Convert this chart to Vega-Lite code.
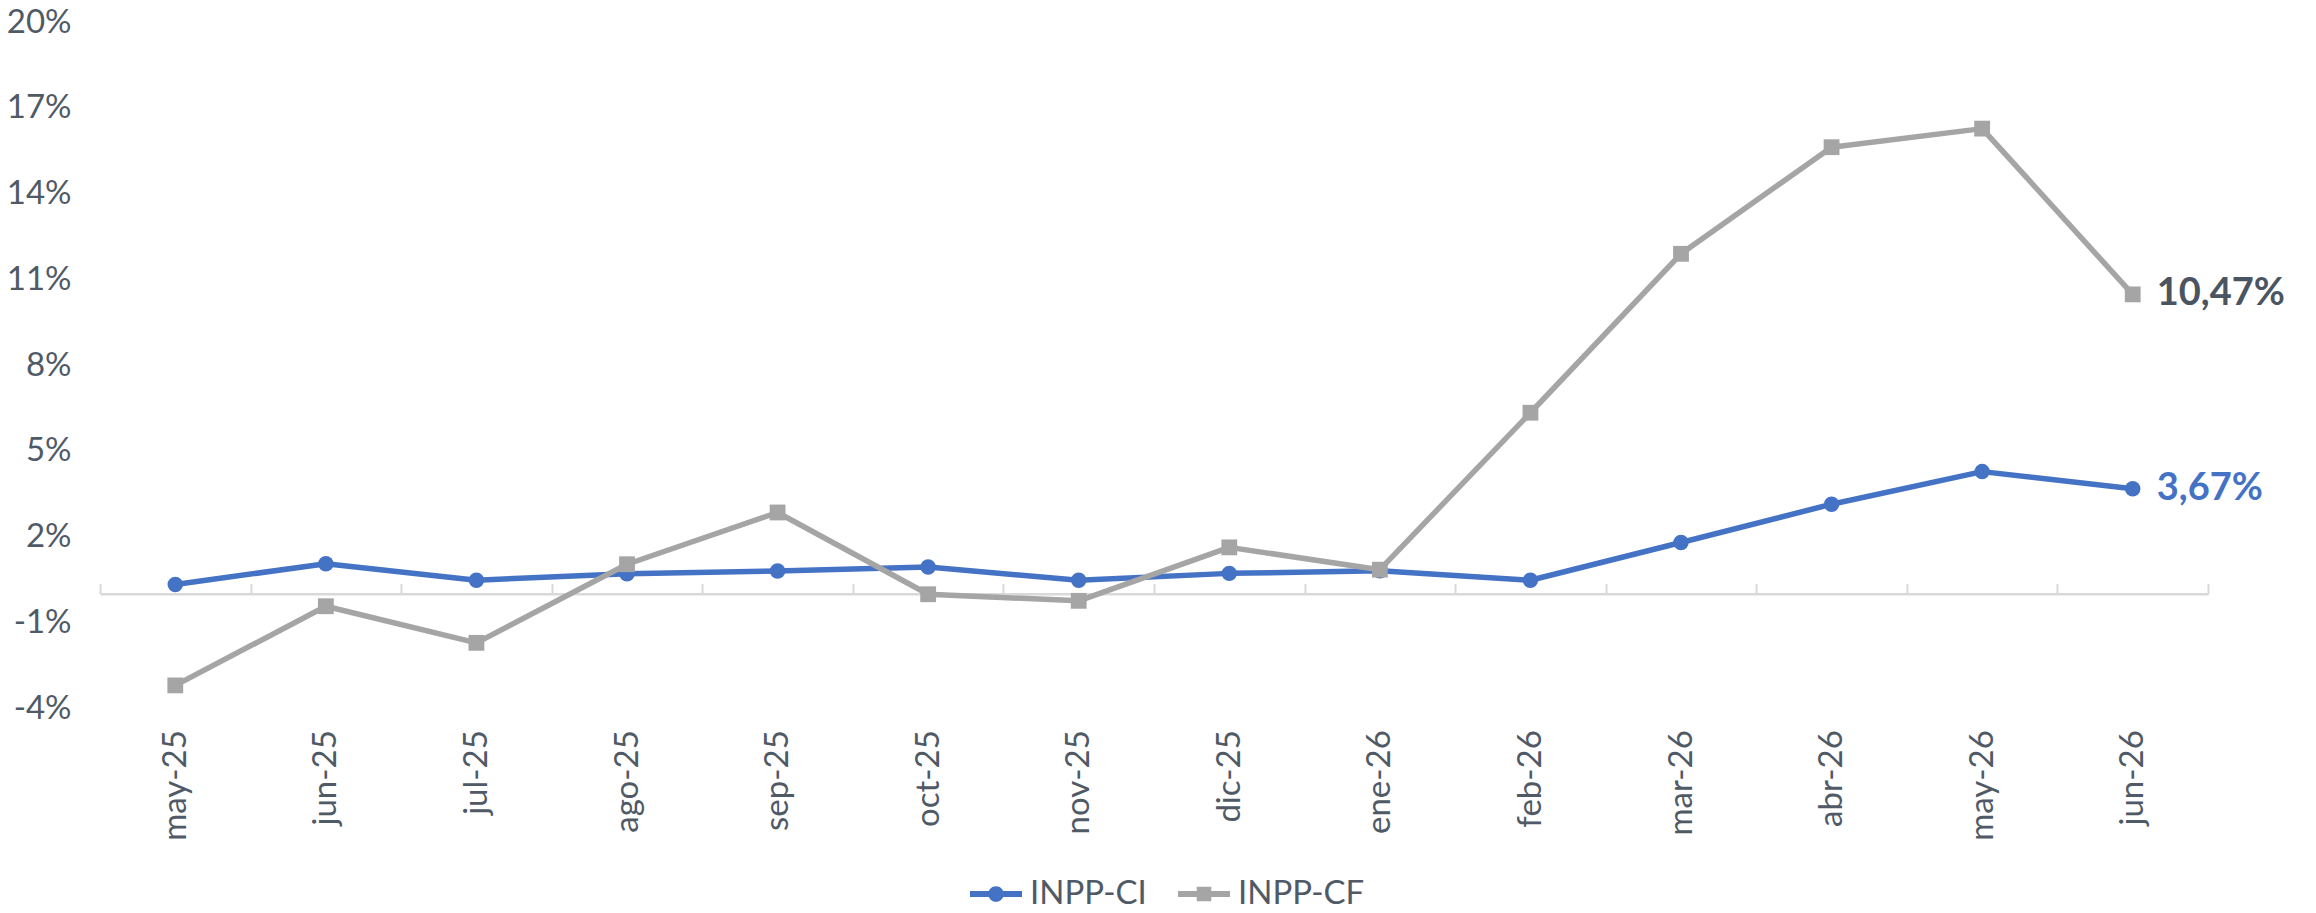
{
  "$schema": "https://vega.github.io/schema/vega-lite/v6.json",
  "width": 2108,
  "height": 686,
  "autosize": {"type": "none"},
  "padding": {"left": 100, "top": 22, "right": 108, "bottom": 205},
  "background": "white",
  "config": {
    "view": {"stroke": null},
    "font": "Lato",
    "axis": {"grid": false, "title": null}
  },
  "data": {
    "values": [
      {"mes": "may-25", "serie": "INPP-CI", "valor": 0.32},
      {"mes": "jun-25", "serie": "INPP-CI", "valor": 1.05},
      {"mes": "jul-25", "serie": "INPP-CI", "valor": 0.47},
      {"mes": "ago-25", "serie": "INPP-CI", "valor": 0.70},
      {"mes": "sep-25", "serie": "INPP-CI", "valor": 0.79},
      {"mes": "oct-25", "serie": "INPP-CI", "valor": 0.93},
      {"mes": "nov-25", "serie": "INPP-CI", "valor": 0.47},
      {"mes": "dic-25", "serie": "INPP-CI", "valor": 0.71},
      {"mes": "ene-26", "serie": "INPP-CI", "valor": 0.80},
      {"mes": "feb-26", "serie": "INPP-CI", "valor": 0.47},
      {"mes": "mar-26", "serie": "INPP-CI", "valor": 1.79},
      {"mes": "abr-26", "serie": "INPP-CI", "valor": 3.13},
      {"mes": "may-26", "serie": "INPP-CI", "valor": 4.27},
      {"mes": "jun-26", "serie": "INPP-CI", "valor": 3.67},
      {"mes": "may-25", "serie": "INPP-CF", "valor": -3.21},
      {"mes": "jun-25", "serie": "INPP-CF", "valor": -0.44},
      {"mes": "jul-25", "serie": "INPP-CF", "valor": -1.72},
      {"mes": "ago-25", "serie": "INPP-CF", "valor": 1.03},
      {"mes": "sep-25", "serie": "INPP-CF", "valor": 2.84},
      {"mes": "oct-25", "serie": "INPP-CF", "valor": -0.02},
      {"mes": "nov-25", "serie": "INPP-CF", "valor": -0.25},
      {"mes": "dic-25", "serie": "INPP-CF", "valor": 1.62},
      {"mes": "ene-26", "serie": "INPP-CF", "valor": 0.84},
      {"mes": "feb-26", "serie": "INPP-CF", "valor": 6.33},
      {"mes": "mar-26", "serie": "INPP-CF", "valor": 11.89},
      {"mes": "abr-26", "serie": "INPP-CF", "valor": 15.62},
      {"mes": "may-26", "serie": "INPP-CF", "valor": 16.27},
      {"mes": "jun-26", "serie": "INPP-CF", "valor": 10.47}
    ]
  },
  "encoding": {
    "x": {
      "field": "mes",
      "type": "ordinal",
      "sort": null,
      "scale": {"type": "band", "paddingInner": 0, "paddingOuter": 0},
      "axis": {
        "offset": -114.33,
        "domainColor": "#d9d9d9",
        "domainWidth": 2.5,
        "ticks": true,
        "tickBand": "extent",
        "tickSize": -10,
        "tickColor": "#d9d9d9",
        "tickWidth": 2,
        "labelAngle": -90,
        "labelPadding": 146,
        "labelFontSize": 33,
        "labelColor": "#505a66",
        "labelFont": "Lato"
      }
    },
    "y": {
      "field": "valor",
      "type": "quantitative",
      "scale": {"domain": [-4, 20], "nice": false, "zero": false},
      "axis": {
        "values": [-4, -1, 2, 5, 8, 11, 14, 17, 20],
        "labelExpr": "datum.value + '%'",
        "domain": false,
        "ticks": false,
        "tickSize": 0,
        "labelPadding": 29,
        "labelFontSize": 33,
        "labelColor": "#505a66",
        "labelFont": "Lato"
      }
    },
    "color": {
      "field": "serie",
      "type": "nominal",
      "scale": {"domain": ["INPP-CI", "INPP-CF"], "range": ["#4472C4", "#A5A5A5"]},
      "legend": {
        "title": null,
        "orient": "none",
        "legendX": 870,
        "legendY": 846,
        "direction": "horizontal",
        "labelFontSize": 33,
        "labelColor": "#505a66",
        "labelFont": "Lato",
        "labelOffset": 8,
        "columnPadding": 31,
        "symbolSize": 2704,
        "symbolStrokeWidth": 0,
        "encode": {
          "symbols": {
            "update": {
              "shape": {"signal": "datum.value === 'INPP-CI' ? 'M-1,-0.12H1V0.12H-1Z M-0.3,0A0.3,0.3 0 1,1 0.3,0A0.3,0.3 0 1,1 -0.3,0Z' : 'M-1,-0.12H1V0.12H-1Z M-0.28,-0.28H0.28V0.28H-0.28Z'"},
              "fill": {"scale": "color", "field": "value"},
              "strokeWidth": {"value": 0},
              "opacity": {"value": 1}
            }
          }
        }
      }
    }
  },
  "layer": [
    {
      "transform": [{"filter": "datum.serie === 'INPP-CI'"}],
      "mark": {"type": "line", "strokeWidth": 5.5, "strokeJoin": "round", "strokeCap": "round"}
    },
    {
      "transform": [{"filter": "datum.serie === 'INPP-CI'"}],
      "mark": {"type": "point", "shape": "circle", "filled": true, "size": 240, "opacity": 1}
    },
    {
      "transform": [{"filter": "datum.serie === 'INPP-CF'"}],
      "mark": {"type": "line", "strokeWidth": 5.5, "strokeJoin": "round", "strokeCap": "round"}
    },
    {
      "transform": [{"filter": "datum.serie === 'INPP-CF'"}],
      "mark": {"type": "point", "shape": "square", "filled": true, "size": 250, "opacity": 1}
    },
    {
      "transform": [
        {"filter": "datum.mes === 'jun-26'"},
        {"calculate": "replace(format(datum.valor, '.2f'), '.', ',') + '%'", "as": "etiqueta"}
      ],
      "mark": {"type": "text", "align": "left", "baseline": "middle", "dx": 24, "fontSize": 38, "fontWeight": "bold", "font": "Lato"},
      "encoding": {
        "text": {"field": "etiqueta"},
        "color": {
          "condition": {"test": "datum.serie === 'INPP-CI'", "value": "#4472C4"},
          "value": "#4a5561"
        }
      }
    }
  ]
}
